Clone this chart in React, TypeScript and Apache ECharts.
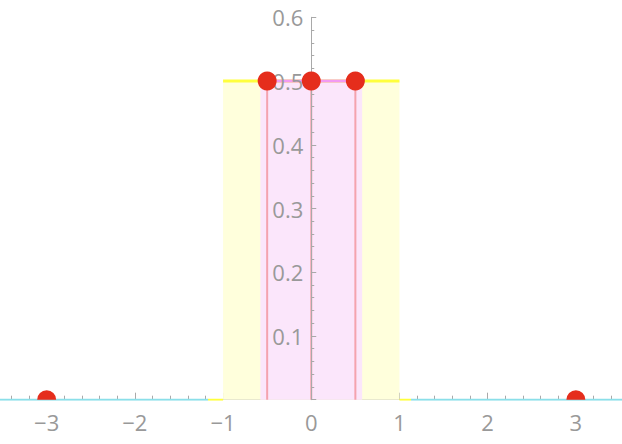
import React, { useEffect, useRef } from "react";
import * as echarts from "echarts";

// ---- data ----
const xMajorTicks = [-3, -2, -1, 0, 1, 2, 3];
const xMinorTicks = [
  -3.4, -3.2, -2.8, -2.6, -2.4, -2.2, -1.8, -1.6, -1.4, -1.2, -0.8, -0.6, -0.4, -0.2,
  0.2, 0.4, 0.6, 0.8, 1.2, 1.4, 1.6, 1.8, 2.2, 2.4, 2.6, 2.8, 3.2, 3.4,
];
const yTickValues = [0.1, 0.2, 0.3, 0.4, 0.5, 0.6];
const uniformPdf: [number, number][] = [[-1, 0.5], [1, 0.5]];
const stdBand: [number, number][] = [[-0.577, 0.5], [0.577, 0.5]];
const stemXs = [-0.5, 0, 0.5];
const pdfPoints: [number, number][] = [[-0.5, 0.5], [0, 0.5], [0.5, 0.5]];
const zeroPoints: [number, number][] = [[-3, 0], [3, 0]];
const cyanLeft: [number, number][] = [[-3.6, 0], [-1.17, 0]];
const cyanRight: [number, number][] = [[1.13, 0], [3.6, 0]];
const yellowLeft: [number, number][] = [[-1.17, 0], [-1, 0]];
const yellowRight: [number, number][] = [[1, 0], [1.13, 0]];

const X_MIN = -3.529;
const X_MAX = 3.523;
const W = 622;
const ZERO_PX = (W * (0 - X_MIN)) / (X_MAX - X_MIN);

const FONT = "'Open Sans', Lato, sans-serif";
const GRAY = "#a9a9a9";
const LABEL = "#999999";
const RED = "#e52d1c";

export default function App() {
  const ref = useRef<HTMLDivElement>(null);
  useEffect(() => {
    if (!ref.current) return;
    const chart = echarts.init(ref.current, undefined, { renderer: "svg" });
    const stemSeries = stemXs.map((x) => ({
      type: "line",
      data: [[x, 0], [x, 0.5]],
      showSymbol: false,
      lineStyle: { color: "#f4a3ae", width: 2 },
      z: 3,
      silent: true,
    }));
    const baseLine = (data: [number, number][], color: string) => ({
      type: "line",
      data,
      showSymbol: false,
      lineStyle: { color, width: 2 },
      z: 3,
      silent: true,
    });
    chart.setOption({
      animation: false,
      backgroundColor: "#ffffff",
      grid: {
        left: 0,
        right: 0,
        top: 17.3,
        bottom: 44.3,
        containLabel: false,
        outerBoundsMode: "none",
      },
      xAxis: [
        {
          type: "value",
          min: X_MIN,
          max: X_MAX,
          z: 1,
          axisLine: { onZero: false, lineStyle: { color: GRAY, width: 1 } },
          axisTick: {
            show: true,
            inside: true,
            length: 7,
            customValues: xMajorTicks,
            lineStyle: { color: GRAY },
          },
          splitLine: { show: false },
          axisLabel: {
            margin: 11,
            color: LABEL,
            fontSize: 22,
            fontFamily: FONT,
            customValues: xMajorTicks,
            formatter: (v: number) => (v < 0 ? "\u2212" + Math.abs(v) : String(v)),
          },
        },
        {
          type: "value",
          min: X_MIN,
          max: X_MAX,
          position: "bottom",
          z: 1,
          axisLine: { show: false, onZero: false },
          axisTick: {
            show: true,
            inside: true,
            length: 4,
            customValues: xMinorTicks,
            lineStyle: { color: GRAY },
          },
          splitLine: { show: false },
          axisLabel: { show: false },
        },
      ],
      yAxis: {
        type: "value",
        min: 0,
        max: 0.6,
        interval: 0.1,
        z: 4,
        offset: -ZERO_PX,
        axisLine: { onZero: false, lineStyle: { color: GRAY, width: 1 } },
        axisTick: { show: true, inside: true, length: 5, lineStyle: { color: GRAY } },
        minorTick: { show: true, splitNumber: 5, length: 3, lineStyle: { color: GRAY } },
        splitLine: { show: false },
        axisLabel: {
          margin: 8,
          color: LABEL,
          fontSize: 22,
          fontFamily: FONT,
          formatter: (v: number) => {
            const r = Math.round(v * 10) / 10;
            return yTickValues.includes(r) ? r.toFixed(1) : "";
          },
        },
      },
      series: [
        {
          type: "line",
          data: uniformPdf,
          showSymbol: false,
          lineStyle: { color: "#ffff3c", width: 3 },
          areaStyle: { color: "#ffffdc", opacity: 1 },
          z: 2,
          silent: true,
        },
        {
          type: "line",
          data: stdBand,
          showSymbol: false,
          lineStyle: { color: "#f29af2", width: 3 },
          areaStyle: { color: "#fbe6fb", opacity: 1 },
          z: 2,
          silent: true,
        },
        ...stemSeries,
        baseLine(cyanLeft, "#8adfe9"),
        baseLine(cyanRight, "#8adfe9"),
        baseLine(yellowLeft, "#ffff3c"),
        baseLine(yellowRight, "#ffff3c"),
        {
          type: "scatter",
          data: pdfPoints,
          symbol: "circle",
          symbolSize: 19,
          itemStyle: { color: RED, opacity: 1 },
          z: 6,
          silent: true,
        },
        {
          type: "scatter",
          data: zeroPoints,
          symbol: "path://M0 10A10 10 0 0 1 20 10Z",
          symbolSize: [19, 9.5],
          symbolOffset: [0, -4.75],
          itemStyle: { color: RED, opacity: 1 },
          z: 6,
          silent: true,
        },
      ],
    });
    return () => chart.dispose();
  }, []);
  return (
    <div
      ref={ref}
      style={{ position: "fixed", left: 0, top: 0, width: W, height: 444, background: "#fff" }}
    />
  );
}
